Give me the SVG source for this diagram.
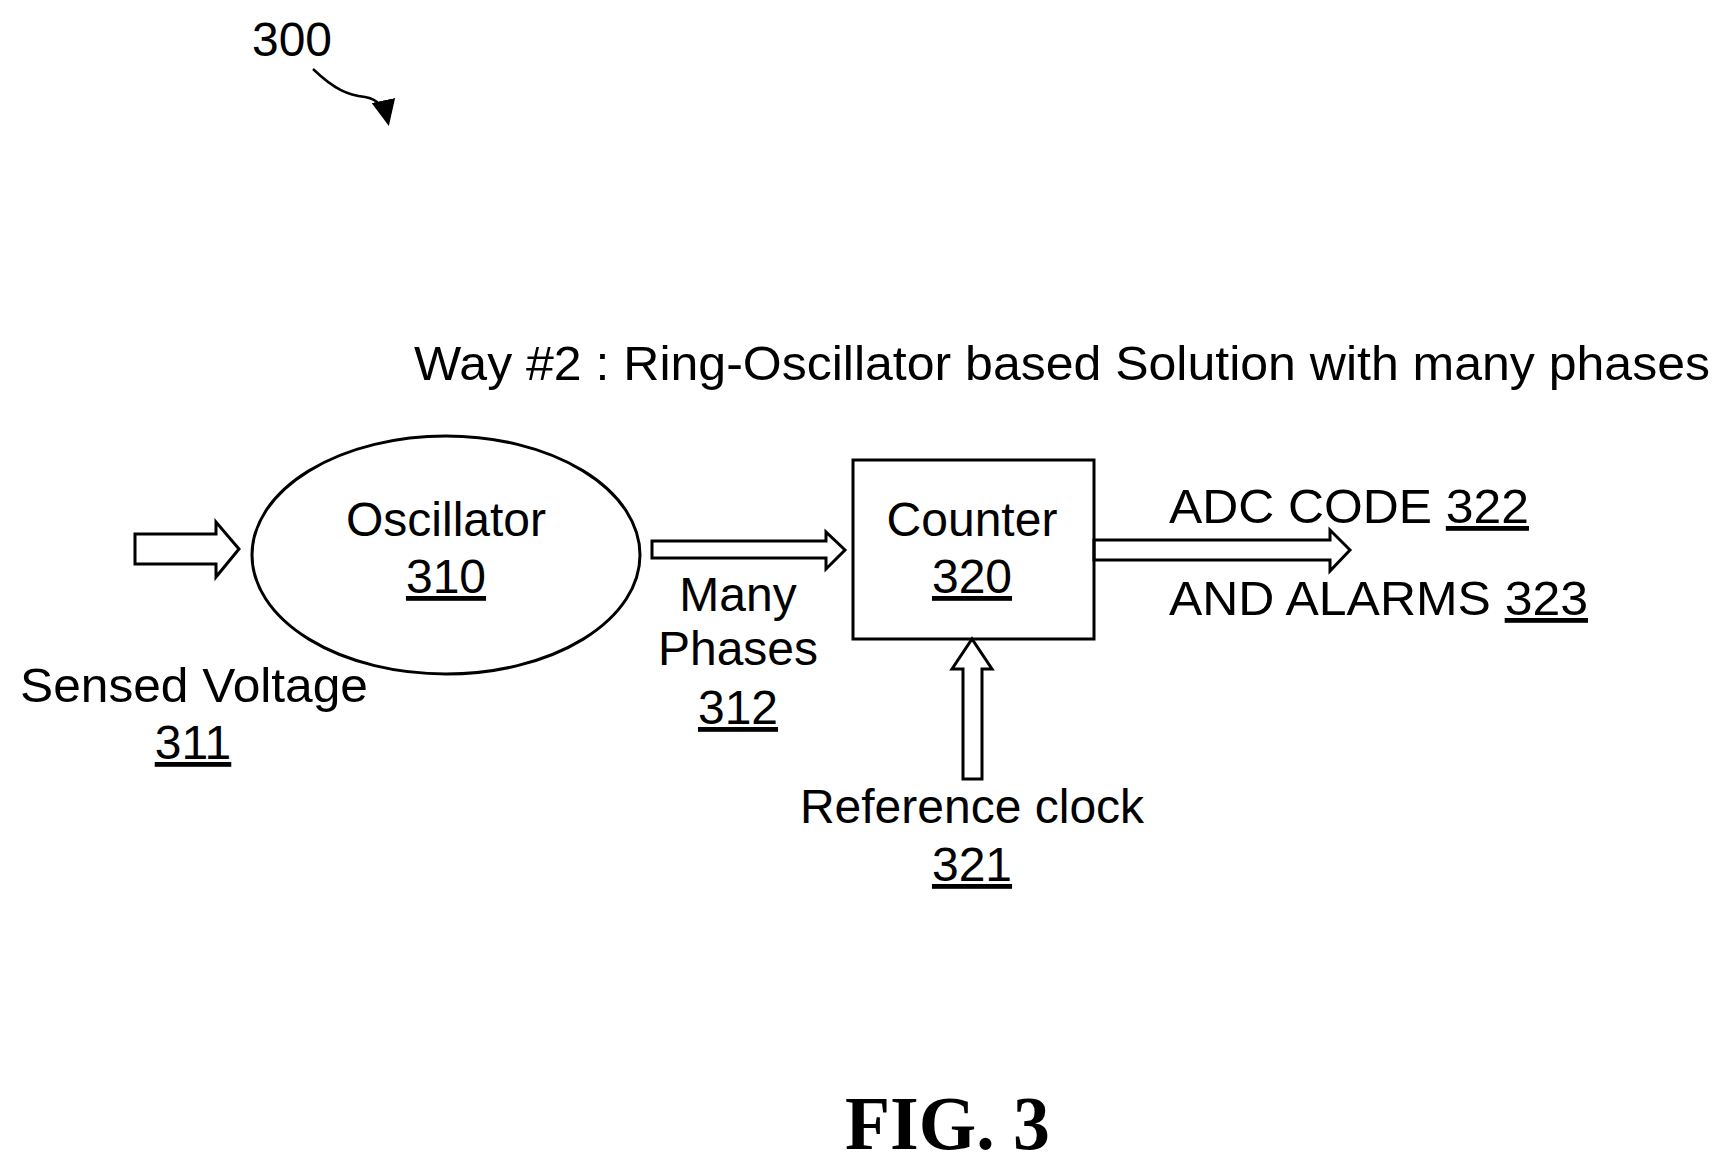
<svg xmlns="http://www.w3.org/2000/svg" width="1724" height="1164" viewBox="0 0 1724 1164">
<style>
text{font-family:"Liberation Sans",Arial,sans-serif;font-size:48px;fill:#000}
.m{text-anchor:middle}
.s{fill:none;stroke:#000;stroke-width:3}
.u{text-decoration:underline}
</style>
<defs><marker id="ah" markerWidth="28" markerHeight="28" refX="22" refY="14" orient="auto" markerUnits="userSpaceOnUse" viewBox="0 0 28 28"><path d="M0,2 L26,14 L0,26 Z" fill="#000"/></marker></defs>
<rect width="1724" height="1164" fill="#fff"/>
<text x="252" y="56" font-size="42" textLength="80" lengthAdjust="spacingAndGlyphs">300</text>
<text x="414" y="380" textLength="1296" lengthAdjust="spacingAndGlyphs">Way #2 : Ring-Oscillator based Solution with many phases</text>
<g id="connectors">
<path class="s" d="M313,69 C335,90 348,95 365,97 C378,99 385,108 388,122" marker-end="url(#ah)" style="stroke-width:2.5"/>
<path id="c-sensed" class="s" d="M135,534 H216 V522 L239,549 L216,577 V564 H135 Z"/>
<path id="c-phases" class="s" d="M652,541 H826 V532 L845,550 L826,569 V558 H652 Z"/>
<path id="c-out" class="s" d="M1094,540 H1330 V530 L1350,550 L1330,571 V560 H1094 Z"/>
<path id="c-clk" class="s" d="M963,779 V669 H952 L972,639 L992,669 H982 V779 Z"/>
</g>
<g id="oscillator"><ellipse class="s" cx="446" cy="555" rx="194" ry="119"/>
<text class="m" x="446" y="536">Oscillator</text><text class="m u" x="446" y="593">310</text></g>
<g id="counter"><rect class="s" x="853" y="460" width="241" height="179"/>
<text class="m" x="972" y="536">Counter</text><text class="m u" x="972" y="593">320</text></g>
<g id="labels">
<text x="20" y="702" textLength="348" lengthAdjust="spacingAndGlyphs">Sensed Voltage</text>
<text class="m u" x="193" y="759">311</text>
<text class="m" x="738" y="611">Many</text>
<text class="m" x="738" y="665">Phases</text>
<text class="m u" x="738" y="724">312</text>
<text x="1169" y="523" textLength="360" lengthAdjust="spacingAndGlyphs">ADC CODE <tspan class="u">322</tspan></text>
<text x="1169" y="615" textLength="419" lengthAdjust="spacingAndGlyphs">AND ALARMS <tspan class="u">323</tspan></text>
<text class="m" x="972" y="823">Reference clock</text>
<text class="m u" x="972" y="881">321</text>
</g>
<text x="845" y="1149" style="font-family:'Liberation Serif',serif;font-weight:bold;font-size:76px" textLength="205" lengthAdjust="spacingAndGlyphs">FIG. 3</text>
</svg>
